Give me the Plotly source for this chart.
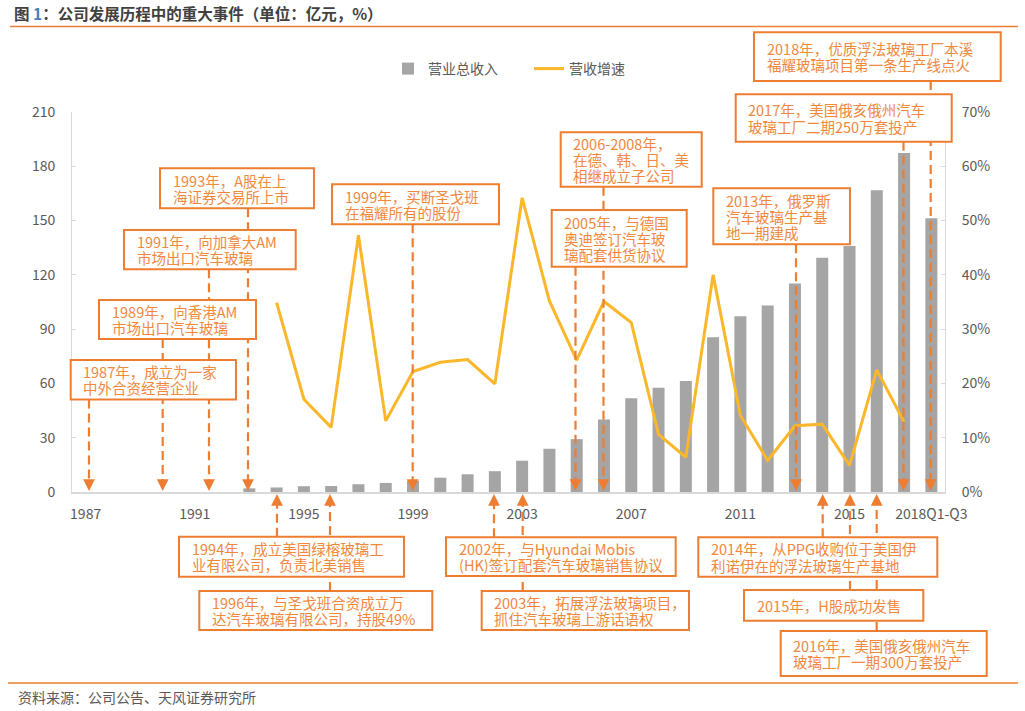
import plotly.graph_objects as go

# ---------------- data ----------------
categories = ["1987", "1988", "1989", "1990", "1991", "1992", "1993", "1994",
              "1995", "1996", "1997", "1998", "1999", "2000", "2001", "2002",
              "2003", "2004", "2005", "2006", "2007", "2008", "2009", "2010",
              "2011", "2012", "2013", "2014", "2015", "2016", "2017", "2018Q1-Q3"]

revenue = [None, None, None, None, None, None, 2.0, 2.5,
           3.2, 3.3, 4.3, 5.0, 6.2, 7.9, 9.8, 11.5,
           17.3, 23.9, 29.2, 40.0, 51.8, 57.6, 61.3, 85.5,
           97.1, 103.0, 115.2, 129.5, 135.9, 166.7, 187.3, 151.3]

growth_pct = [None, None, None, None, None, None, None, 34.9,
              17.1, 11.9, 47.3, 13.1, 22.2, 23.9, 24.4, 19.9,
              54.2, 35.2, 24.3, 35.1, 31.2, 10.6, 6.4, 40.0,
              14.1, 5.8, 12.2, 12.5, 4.9, 22.5, 12.9, None]

tick_labels = ["1987", "1991", "1995", "1999", "2003", "2007", "2011", "2015", "2018Q1-Q3"]

series_names = ["营业总收入", "营收增速"]

title_text = "公司发展历程中的重大事件（单位：亿元，%）"
source_text = "资料来源：公司公告、天风证券研究所"

event_texts = [
    ["1987年，成立为一家", "中外合资经营企业"],
    ["1989年，向香港AM", "市场出口汽车玻璃"],
    ["1991年，向加拿大AM", "市场出口汽车玻璃"],
    ["1993年，A股在上", "海证券交易所上市"],
    ["1999年，买断圣戈班", "在福耀所有的股份"],
    ["2005年，与德国", "奥迪签订汽车玻", "璃配套供货协议"],
    ["2006-2008年，", "在德、韩、日、美", "相继成立子公司"],
    ["2013年，俄罗斯", "汽车玻璃生产基", "地一期建成"],
    ["2017年，美国俄亥俄州汽车", "玻璃工厂二期250万套投产"],
    ["2018年，优质浮法玻璃工厂本溪", "福耀玻璃项目第一条生产线点火"],
    ["1994年，成立美国绿榕玻璃工", "业有限公司，负责北美销售"],
    ["1996年，与圣戈班合资成立万", "达汽车玻璃有限公司，持股49%"],
    ["2002年，与Hyundai Mobis", "(HK)签订配套汽车玻璃销售协议"],
    ["2003年，拓展浮法玻璃项目，", "抓住汽车玻璃上游话语权"],
    ["2014年，从PPG收购位于美国伊", "利诺伊在的浮法玻璃生产基地"],
    ["2015年，H股成功发售"],
    ["2016年，美国俄亥俄州汽车", "玻璃工厂一期300万套投产"],
]

# ---------------- layout geometry (pixels) ----------------
W, H = 1025, 711
PL, PR, PT, PB = 72, 945, 112, 492
CAT_W = (PR - PL) / len(categories)

def px(x):
    return (x - PL) / (PR - PL)

def py(y):
    return (PB - y) / (PB - PT)

def xi(x):
    return (x - PL) / CAT_W - 0.5

# box (x0, x1, y0, y1), arrow x pixel, direction
event_layout = [
    ((70.7, 236, 360, 399.5), 89, "down"),
    ((99, 256, 300, 339), 162.7, "down"),
    ((124, 295.7, 230, 269.3), 209, "down"),
    ((160, 314, 168.3, 208.3), 248, "down"),
    ((332, 499, 184.3, 224.3), 412.7, "down"),
    ((551.7, 686.7, 210, 266.7), 575.5, "down"),
    ((560.7, 701.7, 132.3, 186.7), 603.5, "down"),
    ((713.3, 850, 188.3, 244.3), 796, "down"),
    ((735.7, 951.7, 94.3, 141.7), 903.5, "down"),
    ((754, 1000.7, 32.3, 81), 930.7, "down"),
    ((179, 404, 536.7, 576.7), 277, "up"),
    ((199.3, 432.3, 591, 630), 330, "up"),
    ((446, 675.7, 537.3, 576), 494, "up"),
    ((481.7, 689, 591, 630), 522.7, "up"),
    ((698.3, 937.3, 537.3, 576.7), 822.7, "up"),
    ((744, 923.3, 590, 620.7), 850, "up"),
    ((780.7, 986.7, 631, 676), 876.7, "up"),
]

ORANGE = "#ED7D31"
TEXT_ORANGE = "#F0883E"
GRAY_TXT = "#595959"
AXIS_GRAY = "#D9D9D9"
FONT = "Noto Sans CJK SC"
LINE_GAP = 16.3

fig = go.Figure()
fig.add_trace(go.Bar(x=categories, y=revenue, name=series_names[0],
                     marker=dict(color="#A5A5A5", line=dict(width=0))))
fig.add_trace(go.Scatter(x=categories, y=[None if v is None else v / 100 for v in growth_pct],
                         name=series_names[1], yaxis="y2", mode="lines",
                         line=dict(color="#FAB72B", width=3), connectgaps=False))

shapes = []
annotations = []

# dashed connector lines with arrowheads
for (x0, x1, y0, y1), ax_px, d in event_layout:
    if d == "down":
        shapes.append(dict(type="line", xref="x", yref="paper",
                           x0=xi(ax_px), x1=xi(ax_px), y0=py(y1), y1=py(483),
                           line=dict(color=ORANGE, width=2.2, dash="9px,5px"), layer="above"))
        annotations.append(dict(xref="x", yref="paper", x=xi(ax_px), y=py(491), text="",
                                showarrow=True, ax=0, ay=-11, arrowhead=2, arrowsize=1.3,
                                arrowwidth=1.8, arrowcolor=ORANGE, standoff=0))
    else:
        shapes.append(dict(type="line", xref="x", yref="paper",
                           x0=xi(ax_px), x1=xi(ax_px), y0=py(y0), y1=py(502),
                           line=dict(color=ORANGE, width=2.2, dash="9px,5px"), layer="above"))
        annotations.append(dict(xref="x", yref="paper", x=xi(ax_px), y=py(494), text="",
                                showarrow=True, ax=0, ay=11, arrowhead=2, arrowsize=1.3,
                                arrowwidth=1.8, arrowcolor=ORANGE, standoff=0))

# boxes and their text (one annotation per line to keep the tight line spacing)
for lines, ((x0, x1, y0, y1), ax_px, d) in zip(event_texts, event_layout):
    shapes.append(dict(type="rect", xref="paper", yref="paper",
                       x0=px(x0), x1=px(x1), y0=py(y0), y1=py(y1),
                       fillcolor="white", line=dict(color=ORANGE, width=2), layer="above"))
    n = len(lines)
    yc = (y0 + y1) / 2
    for k, t in enumerate(lines):
        yy = yc + (k - (n - 1) / 2) * LINE_GAP
        annotations.append(dict(xref="paper", yref="paper", x=px(x0 + 10.5), y=py(yy),
                                xanchor="left", yanchor="middle", text=t, showarrow=False,
                                font=dict(family=FONT, size=14.5, color=TEXT_ORANGE)))

# top and bottom rules
shapes.append(dict(type="line", xref="paper", yref="paper", x0=px(10), x1=px(1018),
                   y0=py(26.5), y1=py(26.5), line=dict(color=ORANGE, width=1.5)))
shapes.append(dict(type="line", xref="paper", yref="paper", x0=px(8), x1=px(1018),
                   y0=py(683), y1=py(683), line=dict(color=ORANGE, width=1.5)))

# title & source
annotations.append(dict(xref="paper", yref="paper", x=px(12), y=py(13), xanchor="left",
                        yanchor="middle", showarrow=False,
                        text="<b>图 <span style='color:#4A7EBB'>1</span>：" + title_text + "</b>",
                        font=dict(family=FONT, size=15.5, color="#404040")))
annotations.append(dict(xref="paper", yref="paper", x=px(16), y=py(697), xanchor="left",
                        yanchor="middle", showarrow=False, text=source_text,
                        font=dict(family=FONT, size=14, color=GRAY_TXT)))

fig.update_layout(
    width=W, height=H, autosize=False,
    margin=dict(l=PL, r=W - PR, t=PT, b=H - PB, pad=0),
    paper_bgcolor="white", plot_bgcolor="white",
    bargap=0.56,
    font=dict(family=FONT, size=14, color=GRAY_TXT),
    showlegend=True,
    legend=dict(orientation="h", x=px(388), y=py(69), xanchor="left", yanchor="middle",
                font=dict(family=FONT, size=14, color=GRAY_TXT),
                entrywidth=96, entrywidthmode="pixels", itemwidth=30,
                bgcolor="rgba(0,0,0,0)", borderwidth=0, traceorder="normal"),
    xaxis=dict(type="category", range=[-0.5, len(categories) - 0.5],
               tickmode="array", tickvals=tick_labels, ticktext=tick_labels,
               showline=True, linecolor=AXIS_GRAY, linewidth=1.5, ticks="",
               showgrid=False, zeroline=False, ticklabelstandoff=8,
               tickfont=dict(family=FONT, size=14, color=GRAY_TXT)),
    yaxis=dict(range=[0, 210], dtick=30, tick0=0, showline=True, linecolor=AXIS_GRAY,
               linewidth=1, ticks="inside", ticklen=4, tickcolor=AXIS_GRAY,
               showgrid=False, zeroline=False, ticklabelstandoff=13,
               tickfont=dict(family=FONT, size=14, color=GRAY_TXT)),
    yaxis2=dict(range=[0, 0.7], dtick=0.1, tick0=0, overlaying="y", side="right",
                tickformat=".0%", showline=True, linecolor=AXIS_GRAY, linewidth=1,
                ticks="inside", ticklen=4, tickcolor=AXIS_GRAY, showgrid=False,
                zeroline=False, ticklabelstandoff=13,
                tickfont=dict(family=FONT, size=14, color=GRAY_TXT)),
    shapes=shapes,
    annotations=annotations,
)

fig.write_html("out.html")
